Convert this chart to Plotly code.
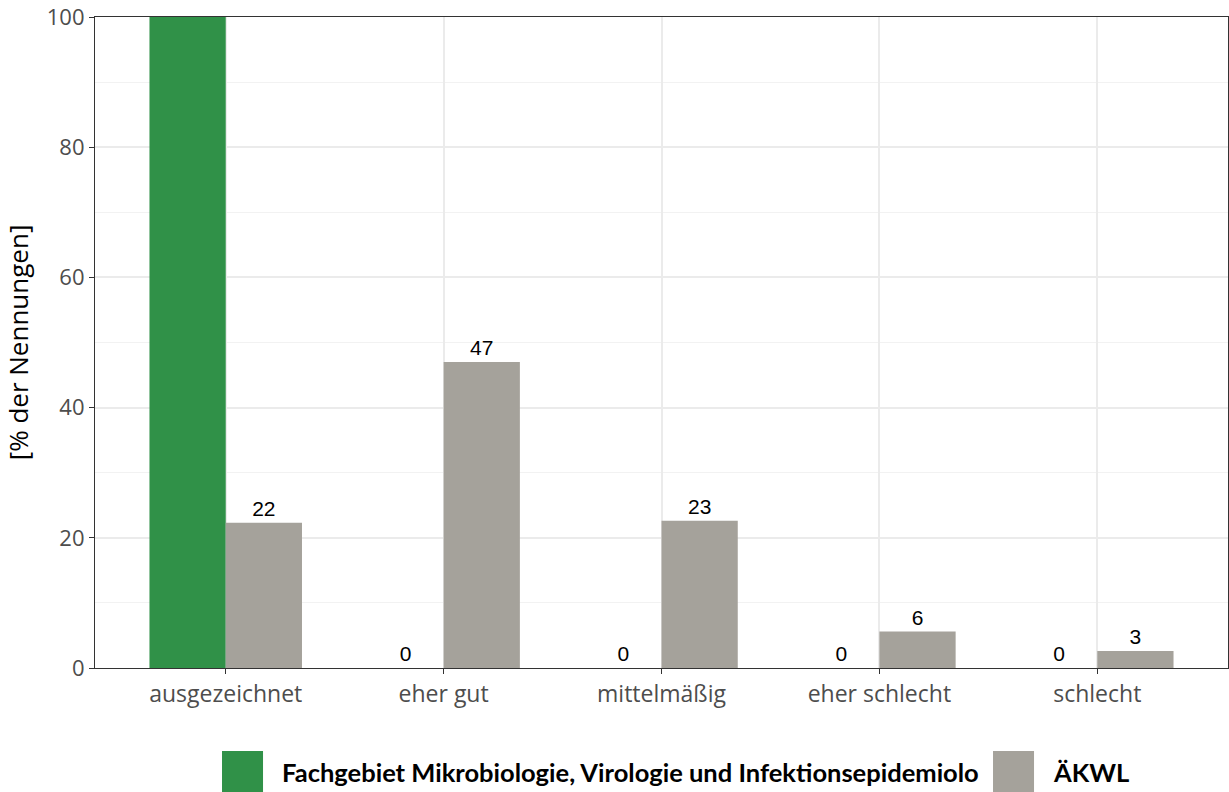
"""Bewertung: Fachgebiet vs. ÄKWL, Anteil der Nennungen."""

import plotly.graph_objects as go

categories = ["ausgezeichnet", "eher gut", "mittelmäßig", "eher schlecht", "schlecht"]
fach_name = "Fachgebiet Mikrobiologie, Virologie und Infektionsepidemiolo"
fach_values = [100, 0, 0, 0, 0]
aekwl_name = "ÄKWL"
aekwl_values = [22.3, 47.0, 22.6, 5.6, 2.6]
y_ticks = [0, 20, 40, 60, 80, 100]
y_max = 100

GREEN = "#309148"
GREY = "#a5a29b"


def labels(vals):
    # the top of the panel clips labels of full-height bars
    return [f"{v:.0f}" if v < y_max else "" for v in vals]


series = [(fach_name, fach_values, GREEN), (aekwl_name, aekwl_values, GREY)]

fig = go.Figure()
for name, vals, color in series:
    fig.add_trace(
        go.Bar(
            x=categories,
            y=vals,
            name=name,
            marker=dict(color=color, line=dict(width=0)),
            text=labels(vals),
            textposition="outside",
            textfont=dict(family="Liberation Sans, Arial", size=21, color="#000000"),
            cliponaxis=True,
            showlegend=False,
        )
    )

# legend drawn as large keys below the panel (ggplot style)
legend_keys = [(0.1121, 0.1483, 0.1633), (0.7926, 0.8288, 0.8438)]
for (name, _, color), (x0, x1, xt) in zip(series, legend_keys):
    fig.add_shape(
        type="rect", xref="paper", yref="paper",
        x0=x0, x1=x1, y0=-0.1905, y1=-0.1275,
        fillcolor=color, line=dict(width=0),
    )
    fig.add_annotation(
        text=f"<b>{name}</b>", xref="paper", yref="paper",
        x=xt, y=-0.16, xanchor="left", yanchor="middle", showarrow=False,
        font=dict(family="Lato", size=25.5, color="#000000"),
    )

fig.update_layout(
    width=1229,
    height=792,
    barmode="group",
    bargap=0.3,
    bargroupgap=0,
    plot_bgcolor="white",
    paper_bgcolor="white",
    margin=dict(l=95, r=1, t=17, b=124),
    font=dict(family="Open Sans", size=18, color="#4d4d4d"),
    showlegend=False,
)
fig.update_xaxes(
    range=[-0.6, 4.6],
    automargin=False,
    showgrid=True,
    gridcolor="#ebebeb",
    gridwidth=1.5,
    showline=True,
    mirror=True,
    linecolor="#333333",
    linewidth=1.2,
    ticks="outside",
    ticklen=5,
    tickcolor="#333333",
    tickfont=dict(size=23, color="#4d4d4d"),
)
fig.update_yaxes(
    range=[0, y_max],
    automargin=False,
    tickvals=y_ticks,
    showgrid=True,
    gridcolor="#ebebeb",
    gridwidth=1.5,
    minor=dict(dtick=10, showgrid=True, gridcolor="#f2f2f2", gridwidth=1),
    showline=True,
    mirror=True,
    linecolor="#333333",
    linewidth=1.2,
    ticks="outside",
    ticklen=5,
    tickcolor="#333333",
    tickfont=dict(size=22, color="#4d4d4d"),
    title=dict(text="[% der Nennungen]", font=dict(size=26, color="#000000"), standoff=14),
    zeroline=False,
)

# drop the default 8px page margin so the figure sits at the window corner
fig.write_html(
    "out.html",
    config={"displayModeBar": False},
    post_script="document.body.style.margin = '0';",
)
